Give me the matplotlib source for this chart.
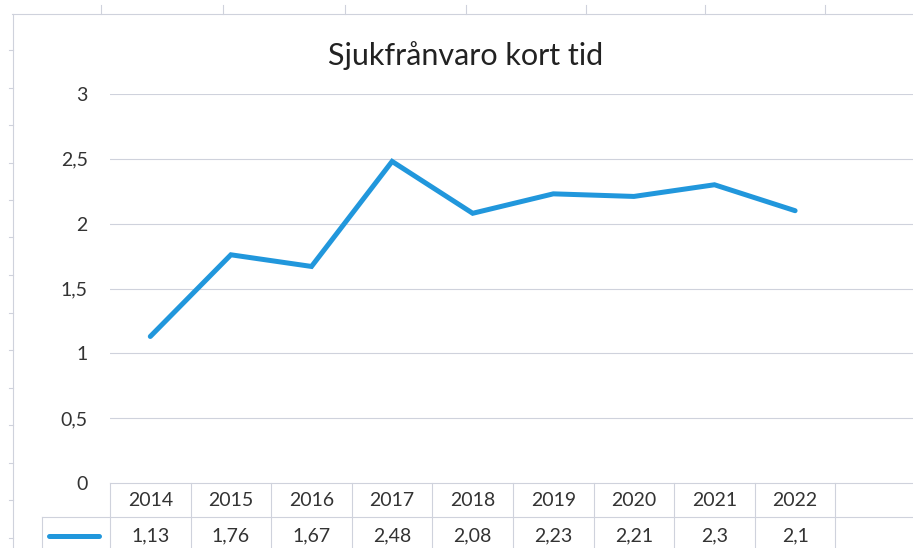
import matplotlib
matplotlib.use("Agg")
import matplotlib.pyplot as plt
from matplotlib.lines import Line2D

plt.rcParams["font.family"] = ["Lato", "DejaVu Sans"]

# data
years = ["2014", "2015", "2016", "2017", "2018", "2019", "2020", "2021", "2022"]
values = [1.13, 1.76, 1.67, 2.48, 2.08, 2.23, 2.21, 2.30, 2.10]
y_ticks = [0, 0.5, 1, 1.5, 2, 2.5, 3]
title = "Sjukfrånvaro kort tid"

BLUE = "#2197dc"; GRID = "#cfd2dc"; TXT = "#333333"
W, H = 913, 548
n_cols = len(years) + 1   # one empty column at the end, like Excel

fig = plt.figure(figsize=(W/100, H/100), dpi=100)
fig.patch.set_facecolor("white")

def fx(px): return px / W
def fy(py): return 1 - py / H

# main chart area
ax = fig.add_axes([fx(110), fy(483), fx(806), (483-94)/H])
ax.set_xlim(-0.5, n_cols - 0.5)
ax.set_ylim(0, 3)
ax.plot(range(len(years)), values, color=BLUE, lw=3.6, solid_capstyle="round",
        solid_joinstyle="miter", zorder=3)
ax.set_yticks(y_ticks)
ax.set_yticklabels([("%g" % v).replace(".", ",") for v in y_ticks], fontsize=14, color=TXT)
ax.set_xticks([])
ax.tick_params(axis="y", length=0, pad=16)
for v in y_ticks[1:]:
    ax.axhline(v, color=GRID, lw=0.8, zorder=1)
for s in ax.spines.values(): s.set_visible(False)
ax.set_facecolor("none")

fig.text(fx(466), fy(56), title, ha="center", va="center", fontsize=22, color="#222222")

# data table under the chart
tab = fig.add_axes([fx(110), 0, fx(806), (548-483)/H])
row_h = 34
tab.set_xlim(-0.5, n_cols - 0.5)
tab.set_ylim(-(548-483)/row_h, 0)
tab.axis("off")
col_w = 806 / n_cols
key_left = -0.5 - (110-42)/col_w
tab.add_line(Line2D([-0.5, n_cols-0.5], [0, 0], color=GRID, lw=0.8, clip_on=False))
tab.add_line(Line2D([key_left, n_cols-0.5], [-1, -1], color=GRID, lw=0.8, clip_on=False))
tab.add_line(Line2D([key_left, key_left], [-1, -3], color=GRID, lw=0.8, clip_on=False))
for k in range(n_cols + 1):
    tab.add_line(Line2D([k-0.5, k-0.5], [0, -3], color=GRID, lw=0.8, clip_on=False))
for i, (yr, v) in enumerate(zip(years, values)):
    tab.text(i, -0.5, yr, ha="center", va="center", fontsize=14, color=TXT)
    tab.text(i, -1.55, ("%g" % v).replace(".", ","), ha="center", va="center",
             fontsize=14, color=TXT)
tab.add_line(Line2D([key_left + 0.09, -0.5 - 0.14], [-1.55, -1.55], color=BLUE, lw=3.6,
                    solid_capstyle="round", clip_on=False))

# faint spreadsheet cell grid behind the chart
fig.add_artist(Line2D([fx(12), 1], [fy(14), fy(14)], color=GRID, lw=0.8))
fig.add_artist(Line2D([fx(13), fx(13)], [fy(14), 0], color=GRID, lw=0.8))
for x in [101, 223, 345, 466, 586, 705, 825]:
    fig.add_artist(Line2D([fx(x), fx(x)], [fy(5), fy(14)], color=GRID, lw=0.8))
for k in range(14):
    y = 50 + 37.5 * k
    fig.add_artist(Line2D([fx(9), fx(13)], [fy(y), fy(y)], color=GRID, lw=0.8))

fig.savefig("out.png", dpi=100, facecolor="white")
